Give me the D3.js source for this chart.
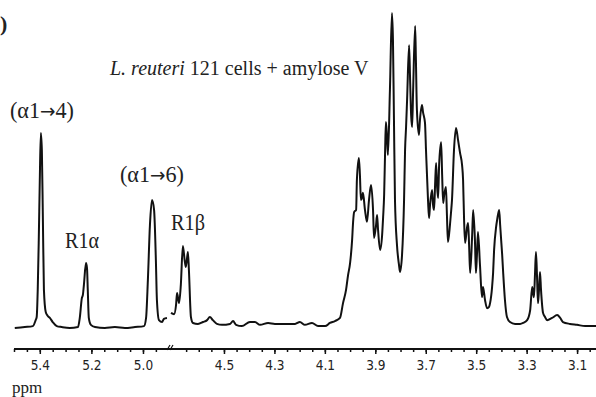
<!DOCTYPE html>
<html>
<head>
<meta charset="utf-8">
<script src="https://cdn.jsdelivr.net/npm/d3@7"></script>
<style>
  body { margin: 0; background: #fff; }
  .tick text { font-family: "DejaVu Sans Condensed", "Liberation Sans Narrow", "DejaVu Sans", sans-serif; font-stretch: condensed; font-size: 13.5px; fill: #222; }
  .tick line { stroke: #111; stroke-width: 1.5; }
  .note { font-family: "Liberation Serif", "DejaVu Serif", serif; fill: #222; }
</style>
</head>
<body>
<div id="spectrum"></div>
<script>
// chemical shift (ppm) and intensity (relative, tallest peak = 100)
// left segment, 5.5 - 4.9 ppm (anomeric region)
var leftPpm = [5.497, 5.458, 5.427, 5.416, 5.412, 5.408, 5.404, 5.400, 5.396, 5.392, 5.388, 5.384,
   5.377, 5.369, 5.361, 5.350, 5.334, 5.315, 5.284, 5.252, 5.245, 5.237, 5.233, 5.229, 5.221, 5.217,
   5.214, 5.210, 5.202, 5.186, 5.148, 5.109, 5.070, 5.031, 4.996, 4.988, 4.981, 4.973, 4.965, 4.957,
   4.950, 4.946, 4.938, 4.926, 4.919, 4.907];
var leftInt = [0, 0.3, 0.6, 2.5, 3.5, 12.1, 27.9, 47.0, 61.9, 56.5, 34.3, 12.1,
   5.1, 3.8, 3.2, 1.9, 0.6, 0.3, 0, 0.3, 3.2, 9.5, 10.5, 13.7, 20.6, 19.0,
   12.1, 3.2, 1.0, 0.3, 0, 0.3, 0, 0.3, 0.6, 3.2, 15.2, 32.7, 40.6, 37.5,
   21.6, 8.9, 2.5, 1.9, 2.9, 3.2];

// right segment, 4.71 - 3.03 ppm
var rightPpm = [4.710, 4.698, 4.690, 4.686, 4.678, 4.671, 4.663, 4.655, 4.651, 4.643, 4.639, 4.631,
   4.623, 4.603, 4.583, 4.567, 4.556, 4.544, 4.528, 4.508, 4.476, 4.464, 4.452, 4.429, 4.397, 4.377,
   4.357, 4.325, 4.298, 4.258, 4.218, 4.199, 4.179, 4.151, 4.127, 4.099, 4.080, 4.060, 4.040, 4.028,
   4.016, 4.008, 4.000, 3.992, 3.988, 3.984, 3.976, 3.973, 3.965, 3.961, 3.957, 3.953, 3.949, 3.941,
   3.933, 3.925, 3.917, 3.909, 3.905, 3.897, 3.893, 3.889, 3.881, 3.873, 3.869, 3.865, 3.861, 3.858,
   3.854, 3.850, 3.842, 3.834, 3.830, 3.826, 3.822, 3.814, 3.806, 3.802, 3.794, 3.786, 3.782, 3.778,
   3.774, 3.766, 3.762, 3.758, 3.754, 3.750, 3.742, 3.739, 3.735, 3.727, 3.723, 3.715, 3.711, 3.703,
   3.699, 3.691, 3.687, 3.683, 3.675, 3.671, 3.667, 3.663, 3.659, 3.655, 3.651, 3.647, 3.639, 3.635,
   3.631, 3.627, 3.620, 3.616, 3.612, 3.604, 3.600, 3.596, 3.588, 3.580, 3.572, 3.564, 3.556, 3.552,
   3.548, 3.544, 3.536, 3.532, 3.528, 3.524, 3.516, 3.512, 3.505, 3.501, 3.497, 3.493, 3.485, 3.477,
   3.473, 3.465, 3.457, 3.449, 3.445, 3.437, 3.433, 3.429, 3.421, 3.417, 3.409, 3.405, 3.401, 3.397,
   3.393, 3.386, 3.378, 3.366, 3.346, 3.326, 3.314, 3.298, 3.286, 3.278, 3.275, 3.271, 3.267, 3.263,
   3.259, 3.255, 3.251, 3.247, 3.243, 3.235, 3.227, 3.219, 3.199, 3.179, 3.167, 3.156, 3.128, 3.100,
   3.068, 3.025];
var rightInt = [4.8, 4.4, 7.3, 11.1, 7.9, 13.7, 26.0, 21.0, 19.4, 24.1, 18.4, 3.5,
   1.6, 1.3, 1.9, 2.5, 3.5, 2.5, 1.3, 1.0, 1.3, 2.2, 1.0, 0.6, 1.9, 1.9,
   1.0, 1.6, 1.3, 1.3, 1.3, 1.9, 1.0, 1.6, 0.6, 0.6, 1.6, 2.2, 3.2, 7.9,
   12.1, 16.8, 20.6, 27.9, 33.7, 36.8, 37.5, 47.0, 54.0, 48.6, 40.6, 41.3, 42.9, 37.5,
   33.7, 40.6, 45.4, 37.5, 28.6, 32.7, 35.9, 31.1, 24.8, 29.5, 35.2, 42.2, 56.5, 65.4,
   61.3, 54.9, 75.6, 100, 91.4, 66.0, 40.6, 26.3, 20.0, 17.8, 23.2, 40.6, 56.5, 63.8,
   72.4, 89.8, 78.7, 67.6, 63.8, 75.6, 95.9, 85.1, 69.2, 61.3, 66.0, 70.8, 68.6, 65.1,
   56.5, 40.6, 34.9, 39.0, 43.8, 39.0, 37.5, 45.4, 52.4, 44.8, 41.3, 51.7, 59.0, 48.6,
   39.7, 42.2, 44.8, 35.9, 27.3, 32.7, 36.5, 40.6, 56.5, 63.5, 59.7, 55.6, 51.7, 47.0,
   34.3, 27.0, 32.1, 33.3, 26.0, 17.5, 29.5, 37.5, 27.9, 17.5, 23.2, 30.5, 20.0, 9.8,
   13.0, 8.9, 6.3, 6.7, 7.9, 13.0, 17.5, 24.8, 32.1, 34.3, 37.5, 32.7, 27.9, 23.2,
   17.5, 8.9, 3.5, 1.9, 1.3, 1.3, 1.6, 2.5, 5.7, 13.0, 11.4, 9.8, 16.8, 24.1,
   16.8, 7.9, 12.1, 17.8, 12.1, 4.8, 3.5, 2.5, 3.2, 4.1, 3.2, 1.9, 1.3, 1.0,
   0.6, 0.6];

// labelled ticks on each side of the axis break
var leftLabels = [5.4, 5.2, 5.0];
var rightLabels = [4.5, 4.3, 4.1, 3.9, 3.7, 3.5, 3.3, 3.1];

var width = 596, height = 397;
var axisY = 349;

var svg = d3.select("#spectrum")
   .append("svg")
   .attr("width", width)
   .attr("height", height);

// two x scales (broken axis), ppm runs right to left
var xLeft = d3.scaleLinear().domain([5.5, 4.903]).range([14, 168]);
var xRight = d3.scaleLinear().domain([4.71, 3.025]).range([171, 596]);
var y = d3.scaleLinear().domain([0, 100]).range([328, 13]);

function drawTrace(ppm, inten, x) {
   var pts = ppm.map(function (p, i) { return [p, inten[i]]; });
   var line = d3.line()
      .x(function (d) { return x(d[0]); })
      .y(function (d) { return y(d[1]); })
      .curve(d3.curveMonotoneX);
   svg.append("path")
      .datum(pts)
      .attr("d", line)
      .attr("fill", "none")
      .attr("stroke", "#111")
      .attr("stroke-width", 2)
      .attr("stroke-linejoin", "round");
}

drawTrace(leftPpm, leftInt, xLeft);
drawTrace(rightPpm, rightInt, xRight);

// axis line
svg.append("line")
   .attr("x1", xLeft(5.5)).attr("x2", width)
   .attr("y1", axisY).attr("y2", axisY)
   .attr("stroke", "#111")
   .attr("stroke-width", 2);

// minor ticks every 0.05 ppm
var leftMinor = d3.range(5.5, 4.93, -0.05).map(function (v) { return +v.toFixed(2); });
var rightMinor = d3.range(4.65, 3.0, -0.05).map(function (v) { return +v.toFixed(2); });

function drawAxis(x, minor, labels) {
   svg.append("g")
      .attr("transform", "translate(0," + axisY + ")")
      .call(d3.axisBottom(x).tickValues(minor).tickSize(3).tickFormat(""))
      .call(function (g) { g.select(".domain").remove(); });
   svg.append("g")
      .attr("transform", "translate(0," + axisY + ")")
      .call(d3.axisBottom(x).tickValues(labels).tickSize(5).tickPadding(6).tickFormat(d3.format(".1f")))
      .call(function (g) { g.select(".domain").remove(); });
}

drawAxis(xLeft, leftMinor, leftLabels);
drawAxis(xRight, rightMinor, rightLabels);

// break mark on the axis
[0, 3].forEach(function (dx) {
   svg.append("line")
      .attr("x1", 167 + dx).attr("y1", axisY + 1)
      .attr("x2", 170 + dx).attr("y2", axisY - 4)
      .attr("stroke", "#111")
      .attr("stroke-width", 1.2);
});

svg.append("text")
   .attr("class", "note")
   .attr("x", 12).attr("y", 393)
   .style("font-size", "17px")
   .text("ppm");

// peak annotations (narrow serif in the original); parts: before arrow, arrow, after
var notes = [
   { t: ["(\u03b11", "\u2192", "4)"], x: 10, y: 118, w: 64 },
   { t: ["R1\u03b1"], x: 65, y: 248, w: 34 },
   { t: ["(\u03b11", "\u2192", "6)"], x: 120, y: 182, w: 64 },
   { t: ["R1\u03b2"], x: 171, y: 230, w: 34 }
];
notes.forEach(function (n) {
   var txt = svg.append("text")
      .attr("class", "note")
      .style("font-size", "24px");
   n.t.forEach(function (part) {
      var ts = txt.append("tspan").text(part);
      if (part === "\u2192") ts.style("font-family", "DejaVu Sans").style("font-size", "20px");
   });
   // squeeze horizontally to the width seen in the figure
   var sx = n.w / txt.node().getComputedTextLength();
   txt.attr("transform", "translate(" + n.x + "," + n.y + ") scale(" + sx + ",1)");
});

var title = svg.append("text")
   .attr("class", "note")
   .attr("x", 110).attr("y", 75)
   .style("font-size", "20px");
title.append("tspan").style("font-style", "italic").text("L. reuteri");
title.append("tspan").text(" 121 cells + amylose V");

// panel letter at the left edge
svg.append("text")
   .attr("class", "note")
   .attr("x", 0).attr("y", 31)
   .style("font-size", "22px")
   .style("font-weight", "bold")
   .text(")");
</script>
</body>
</html>
